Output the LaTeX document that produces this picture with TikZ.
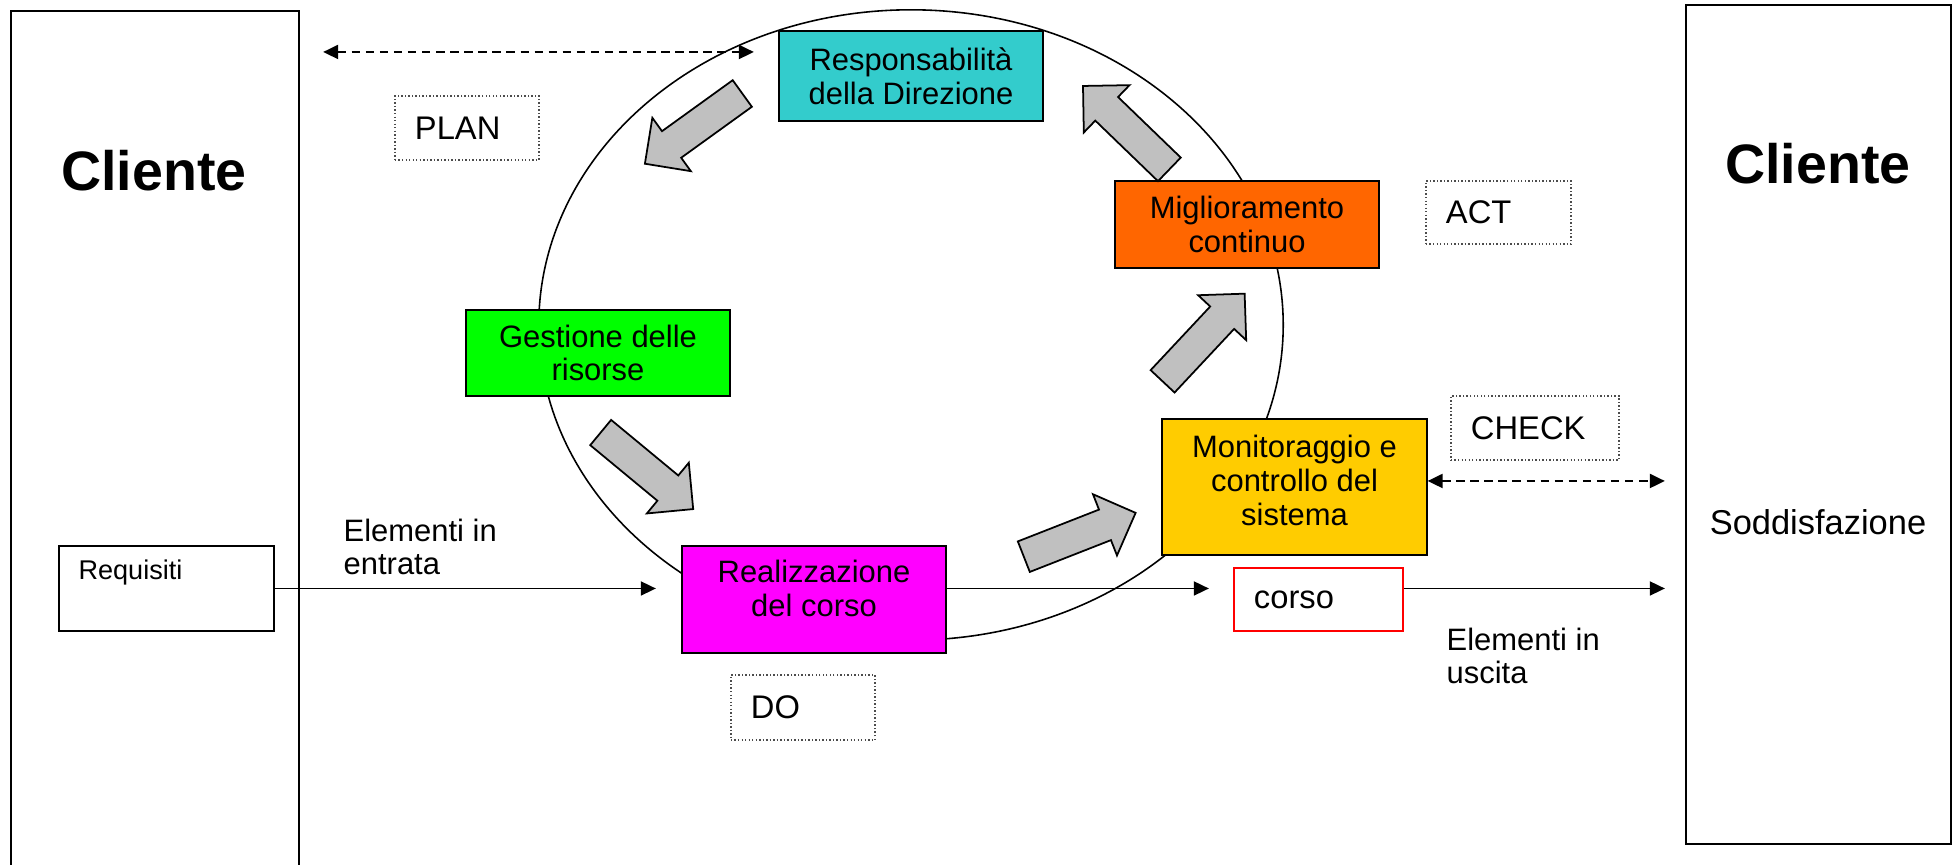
\documentclass[tikz,border=0pt]{standalone}
\usepackage{fontspec}
\setmainfont{Liberation Sans}
\usetikzlibrary{arrows.meta, shapes.arrows, positioning}

\definecolor{respcol}{RGB}{51,204,204}
\definecolor{riscol}{RGB}{0,255,0}
\definecolor{migcol}{RGB}{255,102,0}
\definecolor{moncol}{RGB}{255,204,0}
\definecolor{realcol}{RGB}{255,0,255}
\definecolor{cyccol}{RGB}{192,192,192}

\newcommand{\boxfont}{\fontsize{8.8}{9.6}\selectfont}
\newcommand{\pdcafont}{\fontsize{9.3}{10}\selectfont}
\newcommand{\smallfont}{\fontsize{7.7}{9}\selectfont}
\newcommand{\titlefont}{\fontsize{15.8}{18}\selectfont\bfseries}

\begin{document}
\begin{tikzpicture}
	[x=0.01cm, y=-0.01cm,%
	client/.style ={rectangle,	draw=black,	line width=0.6pt,	inner sep=0pt,	minimum width=#1},%
	phase/.style  ={rectangle,	draw=black,	line width=0.6pt,	inner sep=0pt,	minimum width=2.64cm,	align=center,	font=\boxfont},%
	pdca/.style   ={rectangle,	draw=black!70,	line width=0.4pt,	dash pattern=on 0.4pt off 0.6pt,	inner xsep=0.2cm,	inner ysep=0pt,	text width=#1,	align=left,	font=\pdcafont},%
	textlab/.style={inner sep=0pt,	align=left,	font=\boxfont},%
	flow/.style   ={line width=0.5pt,	-{Triangle[length=0.15cm,width=0.14cm]}},%
	link/.style   ={line width=0.6pt,	dash pattern=on 2.4pt off 1.6pt,	{Triangle[length=0.15cm,width=0.14cm]}-{Triangle[length=0.15cm,width=0.14cm]}},%
	cyclearrow/.style={single arrow,	draw=black,	fill=cyccol,	line width=0.5pt,	inner xsep=0pt,	inner ysep=0.155cm,	minimum height=1.2cm,	single arrow head extend=0.165cm,	anchor=tail},%
	]

	\clip (0,0) rectangle (1960,865);
	\useasboundingbox (0,0) rectangle (1960,865);

	% cycle
	\draw [line width=0.45pt] (911,325) ellipse [x radius=3.72cm, y radius=3.15cm];

	% clients
	\node (cliL) at (155,440.5) [client=2.88cm, minimum height=8.59cm] {};
	\node (cliR) at (1818.5,424.5) [client=2.65cm, minimum height=8.39cm] {};
	\node (cliLtxt) at (154,171) [font=\titlefont] {Cliente};
	\node (cliRtxt) at (1818,164) [font=\titlefont] {Cliente};
	\node (sodd) at (1818,522) [font=\fontsize{9.8}{11}\selectfont] {Soddisfazione};

	% phases
	\node (resp)   at (911,76)      [phase, fill=respcol, minimum height=0.9cm]  {Responsabilità\\della Direzione};
	\node (gest)   at (598,353)     [phase, fill=riscol,  minimum height=0.86cm] {Gestione delle\\risorse};
	\node (mig)    at (1247,224.5)  [phase, fill=migcol,  minimum height=0.87cm] {Miglioramento\\continuo};
	\node (monit)  at (1294.5,487)  [phase, fill=moncol,  minimum height=1.36cm] {Monitoraggio e\\controllo del\\sistema\\[-0.2cm]};
	\node (realiz) at (814,599.5)   [phase, fill=realcol, minimum height=1.07cm] {Realizzazione\\del corso\\[-0.12cm]};

	% PDCA
	\node (plan)  at (467,128)      [pdca=1.04cm, minimum height=0.64cm] {PLAN};
	\node (act)   at (1498.5,212.5) [pdca=1.05cm, minimum height=0.63cm] {ACT};
	\node (check) at (1535,428)     [pdca=1.28cm, minimum height=0.64cm] {CHECK};
	\node (do)    at (803,707.5)    [pdca=1.04cm, minimum height=0.65cm] {DO};

	% input / output
	\node (req) at (166.5,588.5) [rectangle, draw=black, line width=0.6pt, minimum width=2.15cm, minimum height=0.85cm] {};
	\node (reqtxt) at ([shift={(20,28)}]req.north west) [anchor=west, inner sep=0pt, font=\smallfont] {Requisiti};
	\node (corso) at (1318.5,599.5) [pdca=1.29cm, draw=red, solid, line width=0.6pt, minimum height=0.63cm] {corso};
	\node (intxt)  at (343,547)  [textlab, anchor=west] {Elementi in\\entrata};
	\node (outtxt) at (1446,656) [textlab, anchor=west] {Elementi in\\uscita};

	% cycle arrows
	\foreach \x/\y/\a [count=\k] in {743/93/215.8, 600/432/-39.6, 1023/557/21.4, 1162/382/46.9, 1170/170/136}%
		\node (cyc\k) at (\x,\y) [cyclearrow, rotate=\a] {};

	% interconnections
	\coordinate (resptop) at ([yshift=0.24cm]resp.west);
	\draw [link, shorten <=0.23cm, shorten >=0.24cm] (cliL.east |- resptop) -- (resptop);
	\draw [link, shorten >=0.2cm] ([yshift=0.06cm]monit.east) -- ([yshift=0.06cm]monit.east -| cliR.west);

	\draw [flow, shorten >=0.25cm] (req.east) -- (req.east -| realiz.west);
	\draw [flow, shorten >=0.24cm] (realiz.east |- req.east) -- (corso.west |- req.east);
	\draw [flow, shorten >=0.2cm]  (corso.east |- req.east) -- (cliR.west |- req.east);

\end{tikzpicture}
\end{document}
